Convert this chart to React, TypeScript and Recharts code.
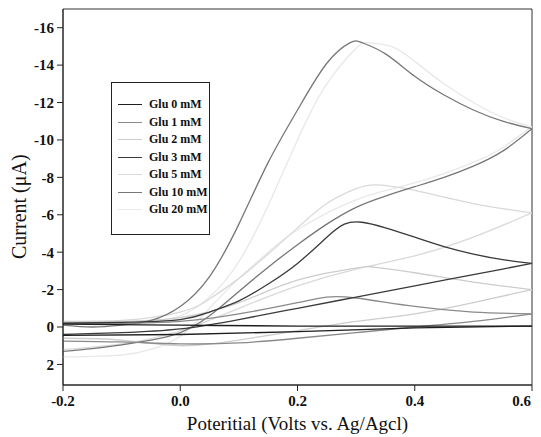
import { LineChart, Line, XAxis, YAxis, ReferenceArea } from "recharts";

// [potential (V), current (µA)] forward scan to 0.6 V, then reverse scan
const glu0: [number, number][] = [
  [-0.2, -0.15], [0, -0.1], [0.2, -0.05], [0.4, -0.05], [0.6, -0.05],
  [0.4, 0.05], [0.2, 0.25], [0, 0.4], [-0.2, 0.45],
];
const glu1: [number, number][] = [
  [-0.2, -0.2], [-0.1, -0.2], [0, -0.3], [0.1, -0.7], [0.2, -1.3], [0.25, -1.6], [0.3, -1.55],
  [0.4, -1.1], [0.5, -0.8], [0.6, -0.7],
  [0.5, -0.3], [0.4, 0.0], [0.3, 0.3], [0.2, 0.6], [0.1, 0.85], [0, 0.9], [-0.1, 0.8], [-0.2, 0.75],
];
const glu2: [number, number][] = [
  [-0.2, -0.3], [-0.1, -0.3], [0, -0.5], [0.1, -1.3], [0.2, -2.5], [0.3, -3.15], [0.33, -3.2],
  [0.4, -2.9], [0.5, -2.4], [0.6, -2.0],
  [0.5, -1.3], [0.4, -0.7], [0.3, -0.3], [0.2, 0.2], [0.1, 0.7], [0, 1.0], [-0.1, 0.7], [-0.2, 0.6],
];
const glu3: [number, number][] = [
  [-0.2, -0.2], [-0.1, -0.25], [0, -0.4], [0.05, -0.8], [0.1, -1.4], [0.15, -2.3], [0.2, -3.4],
  [0.25, -4.8], [0.28, -5.5], [0.31, -5.6], [0.35, -5.3], [0.4, -4.8], [0.45, -4.3], [0.5, -3.9],
  [0.55, -3.6], [0.6, -3.4],
  [0.5, -2.8], [0.4, -2.2], [0.3, -1.6], [0.2, -1.0], [0.1, -0.4], [0, 0.1], [-0.1, 0.3], [-0.2, 0.4],
];
const glu5: [number, number][] = [
  [-0.2, -0.3], [-0.1, -0.35], [0, -0.8], [0.05, -1.5], [0.1, -2.6], [0.15, -3.9], [0.2, -5.3],
  [0.25, -6.6], [0.3, -7.4], [0.336, -7.6], [0.4, -7.3], [0.5, -6.6], [0.6, -6.1],
  [0.5, -4.8], [0.4, -3.8], [0.3, -3.1], [0.2, -2.2], [0.1, -1.0], [0, 0.2], [-0.1, 0.9], [-0.2, 1.2],
];
const glu10: [number, number][] = [
  [-0.2, -0.1], [-0.15, 0], [-0.1, -0.1], [-0.05, -0.35], [0, -1.1], [0.05, -2.7], [0.1, -5.5],
  [0.15, -8.8], [0.2, -11.6], [0.25, -14.1], [0.29, -15.2], [0.31, -15.2], [0.35, -14.6],
  [0.4, -13.4], [0.45, -12.4], [0.5, -11.6], [0.55, -11.0], [0.6, -10.6],
  [0.55, -9.4], [0.5, -8.6], [0.45, -8.0], [0.4, -7.5], [0.35, -7.0], [0.3, -6.4], [0.25, -5.5],
  [0.2, -4.4], [0.15, -3.2], [0.1, -1.9], [0.05, -0.6], [0, 0.3], [-0.05, 0.7], [-0.1, 0.95],
  [-0.15, 1.15], [-0.2, 1.3],
];
const glu20: [number, number][] = [
  [-0.2, -0.2], [-0.1, -0.2], [-0.05, -0.3], [0, -0.6], [0.05, -1.6], [0.1, -3.5], [0.15, -6.5],
  [0.2, -10.0], [0.25, -13.0], [0.3, -14.9], [0.32, -15.2], [0.36, -15.0], [0.4, -14.2],
  [0.45, -13.0], [0.5, -12.0], [0.55, -11.2], [0.6, -10.7],
  [0.55, -9.6], [0.5, -8.8], [0.4, -7.7], [0.3, -6.8], [0.2, -5.2], [0.15, -4.0], [0.1, -2.6],
  [0.05, -1.0], [0, 0.5], [-0.05, 1.2], [-0.1, 1.5], [-0.2, 1.6],
];

const names = ["Glu 0 mM", "Glu 1 mM", "Glu 2 mM", "Glu 3 mM", "Glu 5 mM", "Glu 10 mM", "Glu 20 mM"];
const colors = ["#1e1e1e", "#8a8a8a", "#cdcdcd", "#3a3a3a", "#d9d9d9", "#777777", "#e8e8e8"];
const loops = [glu0, glu1, glu2, glu3, glu5, glu10, glu20];
// draw order: lighter loops first
const drawOrder = [6, 4, 2, 5, 1, 3, 0];

const xTicks = [-0.2, 0, 0.2, 0.4, 0.6];
const yTicks = [2, 0, -2, -4, -6, -8, -10, -12, -14, -16];

const serif = "'Liberation Serif', 'Times New Roman', serif";

// split a loop at the switching potential so each scan is its own smooth branch
function branches(loop: [number, number][]) {
  let turn = 0;
  loop.forEach(([v], idx) => {
    if (v > loop[turn][0]) turn = idx;
  });
  const pts = loop.map(([v, i]) => ({ v, i }));
  return [pts.slice(0, turn + 1), pts.slice(turn)];
}

// last label would run past the page edge, so it is right-aligned on its tick
function XTick({ x, y, payload, index }: any) {
  const last = index === xTicks.length - 1;
  return (
    <text
      x={x}
      y={y + 13}
      textAnchor={last ? "end" : "middle"}
      fill="#111"
      fontSize={15}
      fontWeight="bold"
      fontFamily={serif}
    >
      {Number(payload.value).toFixed(1)}
    </text>
  );
}

function LegendBox() {
  return (
    <div
      style={{
        position: "absolute",
        left: 111,
        top: 82,
        border: "1px solid #222",
        width: 99,
        height: 153,
        boxSizing: "border-box",
        paddingTop: 13,
        fontFamily: serif,
        fontSize: 12,
        fontWeight: "bold",
        color: "#111",
        background: "#fff",
      }}
    >
      {names.map((n, i) => (
        <div key={n} style={{ display: "flex", alignItems: "center", height: 17.5, whiteSpace: "nowrap" }}>
          <div style={{ marginLeft: 6, width: 24, height: 0, borderTop: `1.5px solid ${colors[i]}` }} />
          <span style={{ marginLeft: 7, lineHeight: "17px" }}>{n}</span>
        </div>
      ))}
    </div>
  );
}

export default function App() {
  return (
    <div style={{ position: "relative", width: 541, height: 437, margin: "-8px 0 0 -8px" }}>
      <LineChart width={541} height={437} margin={{ top: 9, right: 9, left: 0, bottom: 0 }}>
        <XAxis
          type="number"
          dataKey="v"
          domain={[-0.2, 0.6]}
          ticks={xTicks}
          allowDataOverflow
          height={52}
          stroke="#222"
          tickSize={6}
          tick={<XTick />}
          label={{ value: "Poteritial (Volts vs. Ag/Agcl)", position: "insideBottom", offset: 7, fill: "#111", fontSize: 19, fontFamily: serif }}
        />
        <YAxis
          type="number"
          dataKey="i"
          domain={[-17, 3.1]}
          reversed
          ticks={yTicks}
          allowDataOverflow
          width={63}
          stroke="#222"
          tickSize={6}
          tickMargin={3}
          tick={{ fill: "#111", fontSize: 15, fontWeight: "bold", fontFamily: serif }}
          label={{ value: "Current (μA)", angle: -90, position: "insideLeft", dx: 14, dy: 62, fill: "#111", fontSize: 20, fontFamily: serif }}
        />
        <ReferenceArea x1={-0.2} x2={0.6} y1={-17} y2={3.1} fill="none" stroke="#333" strokeWidth={1} />
        {drawOrder.flatMap((k) =>
          branches(loops[k]).map((pts, b) => (
            <Line
              key={`${names[k]}-${b}`}
              data={pts}
              dataKey="i"
              name={names[k]}
              type="natural"
              stroke={colors[k]}
              strokeWidth={1.3}
              dot={false}
              isAnimationActive={false}
            />
          ))
        )}
      </LineChart>
      <LegendBox />
    </div>
  );
}
